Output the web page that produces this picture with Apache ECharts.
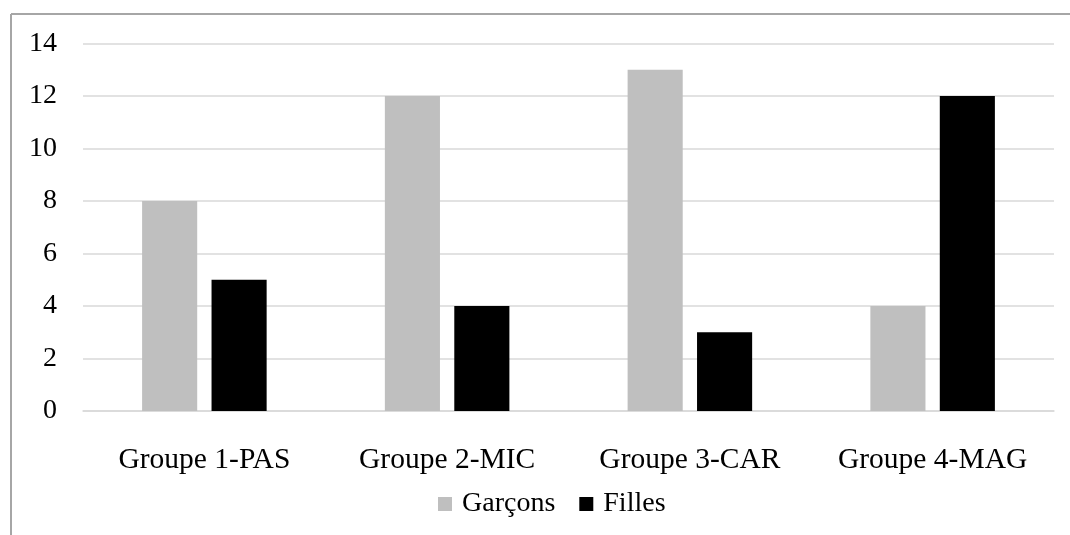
<!DOCTYPE html>
<html><head><meta charset="utf-8">
<script src="https://cdn.jsdelivr.net/npm/echarts@6/dist/echarts.min.js"></script>
<style>html,body{margin:0;padding:0;background:#fff}#c{width:1070px;height:535px}</style>
</head><body><div id="c"></div>
<script>
const categories = ['Groupe 1-PAS', 'Groupe 2-MIC', 'Groupe 3-CAR', 'Groupe 4-MAG'];
const garcons = [8, 12, 13, 4];
const filles = [5, 4, 3, 12];
const yTicks = [0, 2, 4, 6, 8, 10, 12, 14];

const font = '"Liberation Serif", "Times New Roman", serif';
const chart = echarts.init(document.getElementById('c'));
chart.setOption({
  animation: false,
  backgroundColor: '#fff',
  textStyle: { fontFamily: font },
  graphic: [
    { type: 'line', shape: { x1: 11, y1: 14, x2: 1070, y2: 14 }, style: { stroke: '#a6a6a6', lineWidth: 2 } },
    { type: 'line', shape: { x1: 11, y1: 14, x2: 11, y2: 535 }, style: { stroke: '#a6a6a6', lineWidth: 2 } }
  ],
  grid: { left: 83, right: 16, top: 43.5, bottom: 124, containLabel: false },
  legend: {
    bottom: 17, left: 438, padding: 0, itemWidth: 14, itemHeight: 14, itemGap: 24,
    icon: 'rect',
    textStyle: { fontFamily: font, fontSize: 28, color: '#000', padding: [0, 0, 0, 5] },
    data: ['Garçons', 'Filles']
  },
  xAxis: {
    type: 'category', data: categories,
    axisLine: { show: true, lineStyle: { color: '#d9d9d9', width: 1.5 } },
    axisTick: { show: false },
    axisLabel: { fontFamily: font, fontSize: 29.5, color: '#000', margin: 34, interval: 0 }
  },
  yAxis: {
    type: 'value', min: yTicks[0], max: yTicks[yTicks.length - 1], interval: 2,
    axisLine: { show: false }, axisTick: { show: false },
    splitLine: { lineStyle: { color: '#d9d9d9', width: 1.5 } },
    axisLabel: { fontFamily: font, fontSize: 28, color: '#000', margin: 26 }
  },
  series: [
    { name: 'Garçons', type: 'bar', data: garcons, barWidth: '22.7%', barGap: '26%', itemStyle: { color: '#bfbfbf' } },
    { name: 'Filles', type: 'bar', data: filles, barWidth: '22.7%', itemStyle: { color: '#000000' } }
  ]
});
</script></body></html>
